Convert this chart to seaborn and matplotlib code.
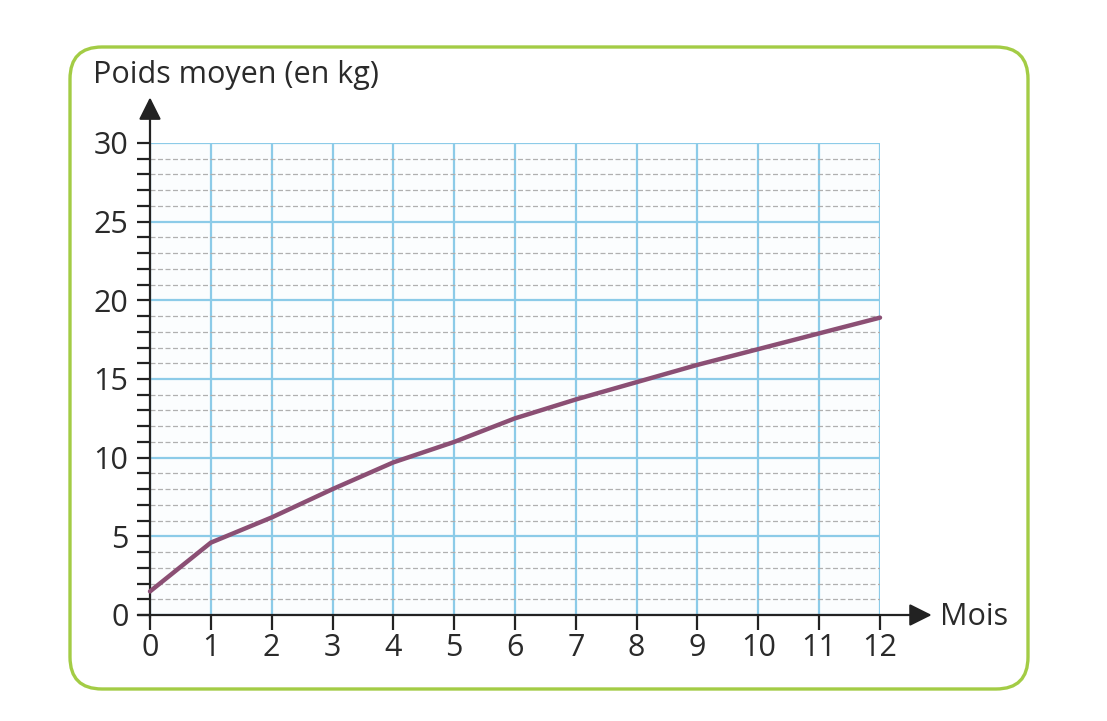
import matplotlib
matplotlib.use("Agg")
import matplotlib.pyplot as plt
from matplotlib.patches import FancyBboxPatch
from matplotlib.ticker import MultipleLocator
import seaborn as sns
import pandas as pd

# values
mois = [0, 1, 2, 3, 4, 5, 6, 7, 8, 9, 10, 11, 12]
poids = [1.5, 4.6, 6.2, 8.0, 9.7, 11.0, 12.5, 13.7, 14.8, 15.9, 16.9, 17.9, 18.9]
y_labels = [0, 5, 10, 15, 20, 25, 30]

sns.set_theme(style="white")
plt.rcParams['font.family'] = ['Open Sans', 'DejaVu Sans']

df = pd.DataFrame({"Mois": mois, "Poids": poids})

fig = plt.figure(figsize=(11.07, 7.21), dpi=100)
ax = fig.add_axes([150 / 1107, 1 - 615 / 721, 730 / 1107, 472 / 721])

# green rounded frame around the whole chart
frame = FancyBboxPatch((0.70, 0.32), 9.58, 6.42,
                       boxstyle="round,pad=0,rounding_size=0.32",
                       transform=fig.dpi_scale_trans, fill=False,
                       edgecolor="#a3cc45", linewidth=2.4, zorder=0)
fig.patches.append(frame)

ax.set_xlim(0, 12)
ax.set_ylim(0, 30)
ax.xaxis.set_major_locator(MultipleLocator(1))
ax.yaxis.set_major_locator(MultipleLocator(5))
ax.yaxis.set_minor_locator(MultipleLocator(1))

# graph paper
ax.grid(which="major", axis="x", color="#8ccbe8", linewidth=1.6)
ax.grid(which="major", axis="y", color="#8ccbe8", linewidth=1.6)
ax.grid(which="minor", axis="y", color="#b0b0b0", linewidth=0.9, linestyle=(0, (4, 2)))
ax.set_axisbelow(True)
ax.set_facecolor("#fbfdfe")

for s in ax.spines.values():
    s.set_visible(False)

sns.lineplot(data=df, x="Mois", y="Poids", ax=ax, color="#8b4f74", linewidth=3.2,
             zorder=5, clip_on=False)

# axes with arrows
ax.annotate("", xy=(0, 32.9), xytext=(0, -0.2), xycoords="data",
            annotation_clip=False,
            arrowprops=dict(arrowstyle="-|>", color="#222222", lw=1.6, mutation_scale=34,
                            shrinkA=0, shrinkB=0))
ax.annotate("", xy=(12.85, 0), xytext=(-0.2, 0), xycoords="data",
            annotation_clip=False,
            arrowprops=dict(arrowstyle="-|>", color="#222222", lw=1.6, mutation_scale=34,
                            shrinkA=0, shrinkB=0))

ax.set_yticks(y_labels)
ax.set_yticklabels([str(v) for v in y_labels])
ax.set_xticks(mois)
ax.set_xticklabels([str(m) for m in mois])
ax.tick_params(axis="y", which="both", direction="out", length=9.5, width=1.6,
               color="#222222", left=True, labelsize=22, labelcolor="#2a2a2a", pad=6)
ax.tick_params(axis="x", which="major", direction="out", length=11, width=1.6,
               color="#222222", bottom=True, labelsize=22, labelcolor="#2a2a2a", pad=2)
ax.set_xlabel("")
ax.set_ylabel("")

ax.text(12.98, -0.1, "Mois", fontsize=22, color="#2a2a2a", va="center", ha="left")
fig.text(93 / 1107, 1 - 75 / 721, "Poids moyen (en kg)", fontsize=22, color="#2a2a2a",
         va="center", ha="left")

fig.savefig("out.png", dpi=100, facecolor="white")
